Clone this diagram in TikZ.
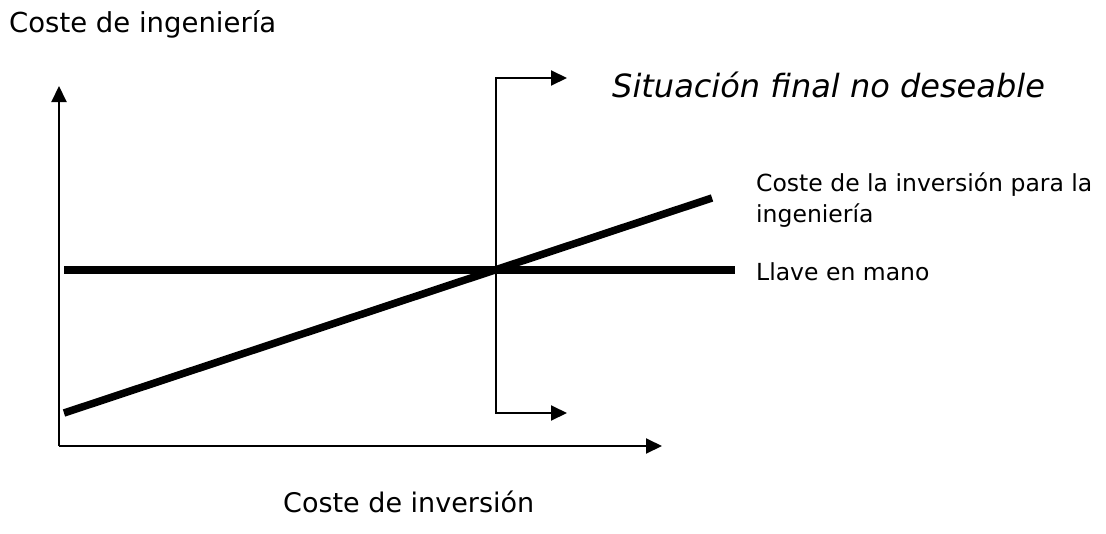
\documentclass[tikz,border=0pt]{standalone}
\usepackage{fontspec}
\setmainfont{DejaVu Sans}
\usetikzlibrary{arrows.meta}

\tikzset{
  axis/.style={line width=2pt, -{Triangle[length=16pt,width=15pt]}},
  bracket/.style={line width=2pt, {Triangle[length=16pt,width=15pt]}-{Triangle[length=16pt,width=15pt]}},
  costline/.style={line width=7.5pt},
  txt/.style={inner sep=0pt, anchor=base west},
}

\begin{document}
\begin{tikzpicture}[x=1pt, y=-1pt]
    \useasboundingbox (0,0) rectangle (1106,533);

    % Draw the axes
    \coordinate (origin) at (59, 446);
    \coordinate (ytip) at (59, 86);
    \coordinate (xtip) at (662, 446);
    \draw[axis] (origin) -- (ytip);
    \draw[axis] (origin) -- (xtip);

    % Axis labels
    \node[txt, font=\fontsize{27.5}{32}\selectfont] (ylabel) at (9, 32) {Coste de ingeniería};
    \node[txt, font=\fontsize{27}{32}\selectfont] (xlabel) at (283, 512) {Coste de inversión};

    % Draw the two cost lines
    \coordinate (flat0) at (64, 270);
    \coordinate (flat1) at (735, 270);
    \coordinate (rise0) at (64, 413);
    \coordinate (rise1) at (712, 198);
    \draw[costline] (flat0) -- (flat1);
    \draw[costline] (rise0) -- (rise1);

    % Labels of the cost lines
    \node[txt, anchor=west, align=left, font=\fontsize{23.5}{31}\selectfont] (riselabel) at (756, 200)
        {Coste de la inversión para la\\ingeniería};
    \node[txt, anchor=west, font=\fontsize{23.5}{31}\selectfont] (flatlabel) at (756, 272) {Llave en mano};

    % Draw the bracket at the crossing point
    \coordinate (btop) at (496, 78);
    \coordinate (bbot) at (496, 413);
    \coordinate (btoptip) at (567, 78);
    \coordinate (bbottip) at (567, 413);
    \draw[bracket] (bbottip) -- (bbot) -- (btop) -- (btoptip);

    \node[txt, font=\itshape\fontsize{32}{38}\selectfont] (verdict) at (612, 97) {Situación final no deseable};
\end{tikzpicture}
\end{document}
